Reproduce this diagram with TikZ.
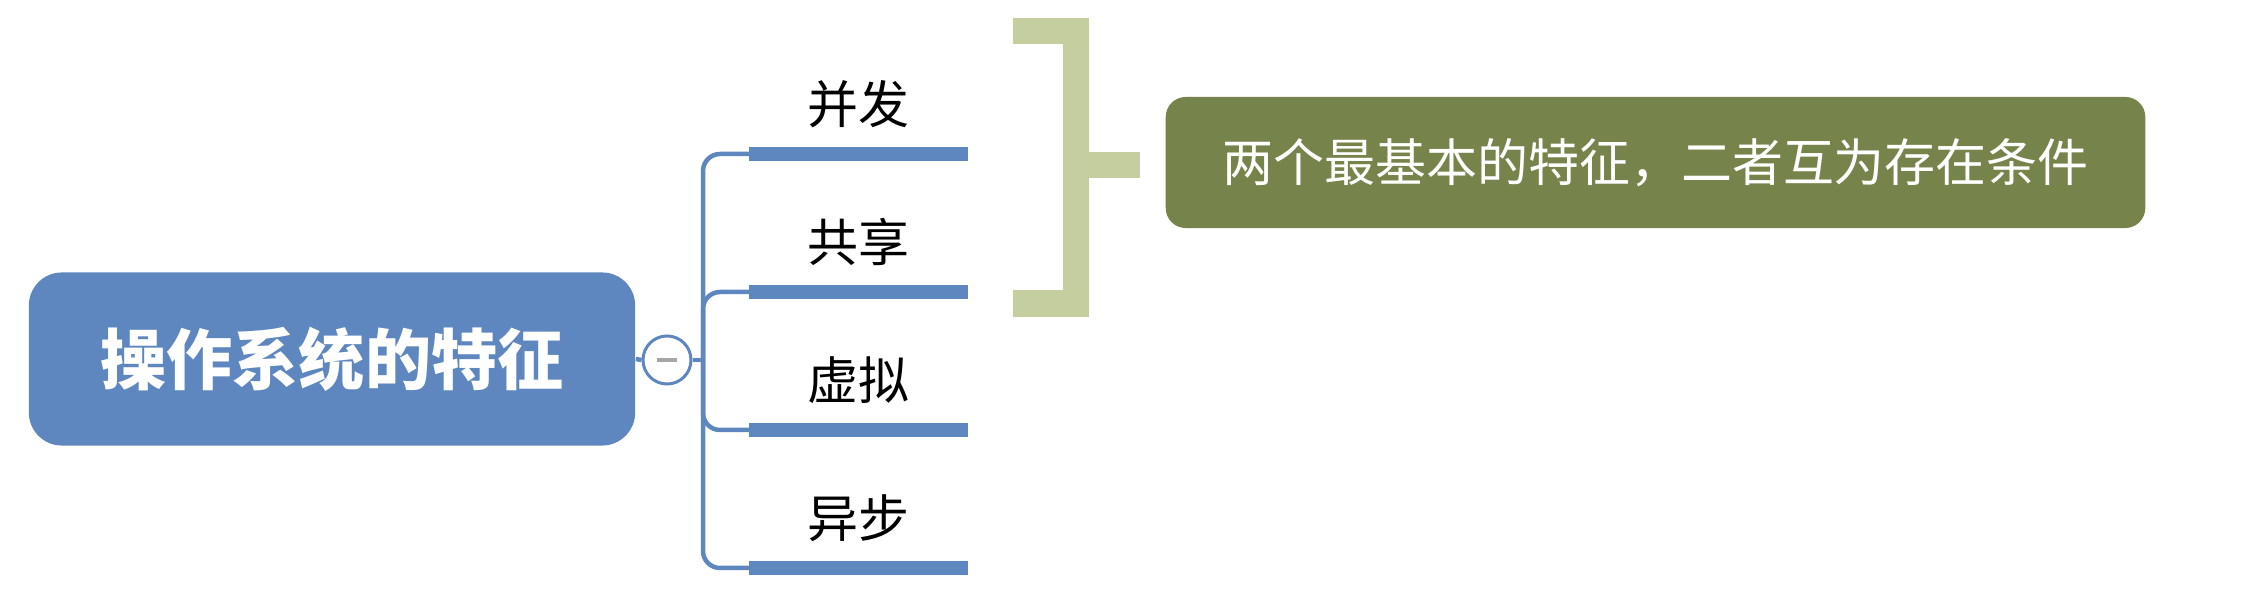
\documentclass[tikz,border=0pt]{standalone}
\usepackage{fontspec}
\setmainfont{Noto Sans CJK SC}
\usetikzlibrary{calc}
\definecolor{rootblue}{RGB}{94,135,192}
\definecolor{notegreen}{RGB}{118,131,74}
\definecolor{bracegreen}{RGB}{197,206,159}
\tikzset{
	link/.style={rootblue, line width=0.045cm},
	bar/.style={rootblue, line width=0.14cm},
	leaf/.style={font=\fontsize{14.5}{16}\selectfont, text=black, inner sep=0pt},
}

\begin{document}
\begin{tikzpicture}[x=0.01cm, y=-0.01cm]
		%%%%% START %%%%%
		\useasboundingbox (0,0) rectangle (2258,604);
		
		\node[fill=rootblue, rounded corners=0.33cm, minimum width=6.06cm, minimum height=1.73cm, inner sep=0pt, text=white, font=\fontsize{18.8}{20}\selectfont\bfseries] (root) at (332,359) {操作系统的特征};
		
		\node[circle, draw=rootblue, line width=0.03cm, fill=white, minimum size=0.48cm, inner sep=0pt] (fold) at (667,360) {};
		\draw[gray!70, line width=0.04cm] ($(fold.center)+(-10,0)$) -- ($(fold.center)+(10,0)$);
		\draw[link] (root.east) -- (fold.west);
		
		\coordinate (hub) at (703,360);
		\draw[link] (fold.east) -- (hub);
		
		\foreach \y/\t [count=\i] in {154/并发, 292/共享, 430/虚拟, 568/异步} {
			\coordinate (u\i) at (749,\y);
			\coordinate (v\i) at (968,\y);
			\draw[link, rounded corners=0.17cm] (hub) |- (u\i);
			\draw[bar] (u\i) -- (v\i);
			\node[leaf] (leaf\i) at (858,\y-50) {\t};
		}
		
		\draw[bracegreen, line width=0.26cm] (1013,31.5) -- (1076,31.5) -- (1076,303.5) -- (1013,303.5);
		\coordinate (brace) at (1089,165);
		
		\node[fill=notegreen, rounded corners=0.2cm, minimum width=9.79cm, minimum height=1.31cm, inner sep=0pt, text=white, font=\fontsize{14.5}{16}\selectfont] (note) at (1655.5,162.5) {两个最基本的特征，二者互为存在条件};
		\draw[bracegreen, line width=0.26cm] (brace) -- ++(51,0);
		
		%%%%% END %%%%%
\end{tikzpicture}
\end{document}
